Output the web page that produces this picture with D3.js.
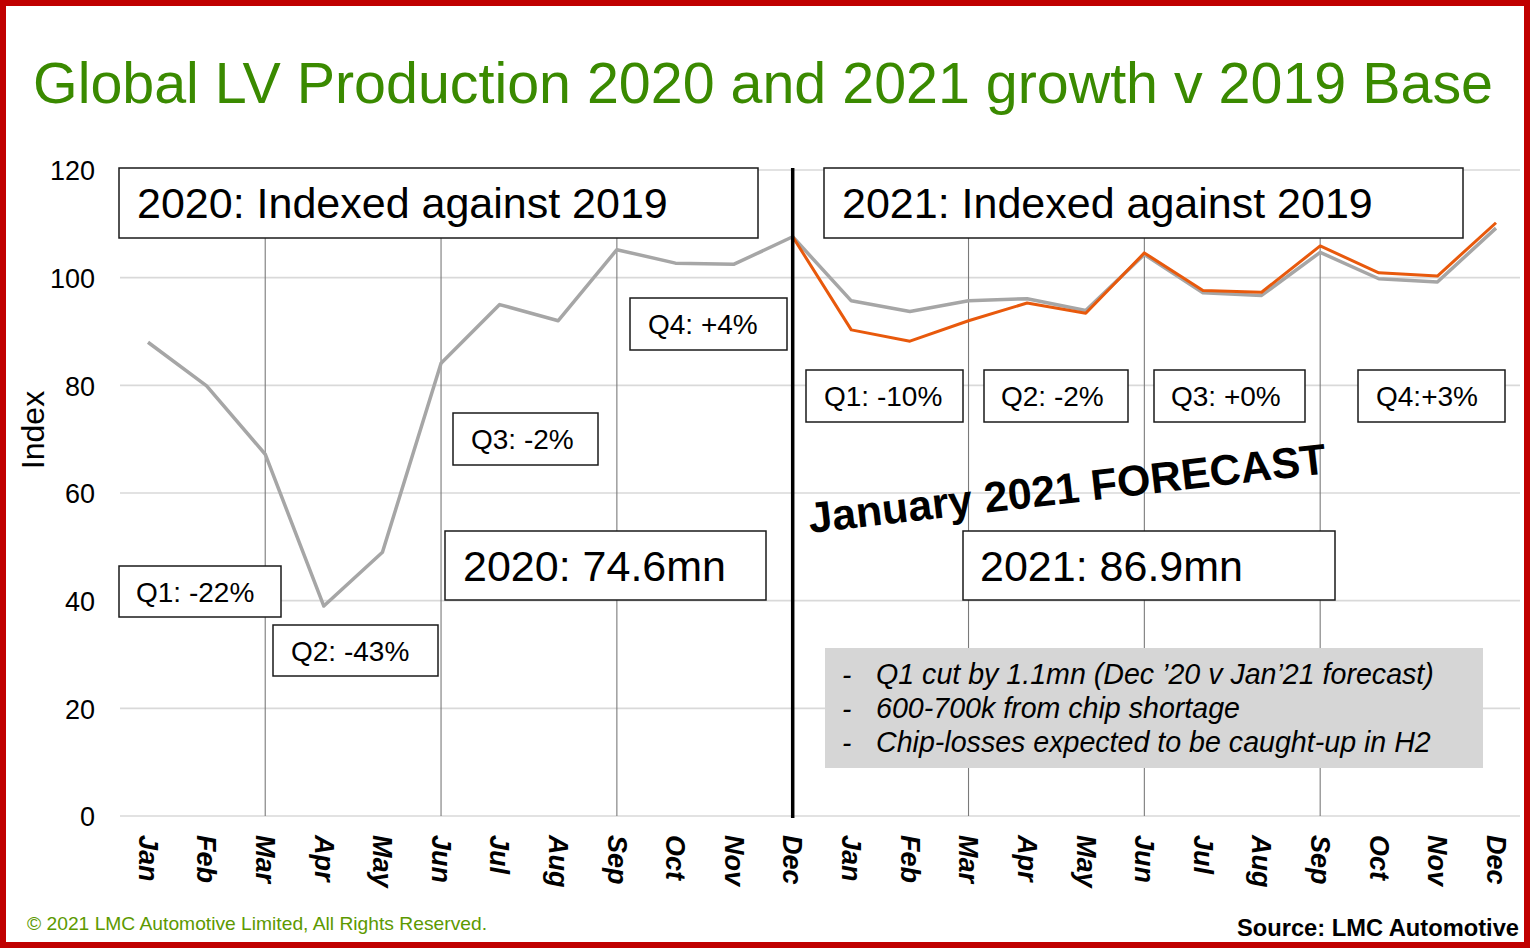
<!DOCTYPE html>
<html>
<head>
<meta charset="utf-8">
<script src="https://cdn.jsdelivr.net/npm/d3@7/dist/d3.min.js"></script>
<style>
  html, body { margin: 0; padding: 0; background: #fff; }
  svg { display: block; }
  text { font-family: "Liberation Sans", Arial, Helvetica, sans-serif; }
</style>
</head>
<body>
<svg id="chart" width="1530" height="949"></svg>
<script>
// ---------- DATA ----------
const months = ["Jan","Feb","Mar","Apr","May","Jun","Jul","Aug","Sep","Oct","Nov","Dec"];
const years = ["2020","2021"];
// Grey series: 2020 actual + 2021 earlier (Dec '20) forecast, indexed vs 2019
const greyValues = [88.0, 79.9, 67.2, 39.0, 49.0, 84.1, 95.0, 92.0, 105.2, 102.7, 102.5, 107.6,
                    95.7, 93.7, 95.7, 96.1, 93.9, 104.3, 97.2, 96.7, 104.7, 99.8, 99.2, 109.2];
// Orange series: January 2021 forecast (starts at Dec 2020)
const orangeStart = 11;
const orangeValues = [107.6, 90.3, 88.2, 92.0, 95.3, 93.4, 104.6, 97.6, 97.3, 105.9, 100.9, 100.3, 110.2];
const yTicks = [0, 20, 40, 60, 80, 100, 120];
const quarterGridMonths = ["Mar","Jun","Sep"];

const titleText = "Global LV Production 2020 and 2021 growth v 2019 Base";
const yLabel = "Index";
const boxLabels = [
  {t:"2020: Indexed against 2019", x:119, y:168, w:639, h:70, fs:43, tx:18},
  {t:"2021: Indexed against 2019", x:824, y:168, w:639, h:70, fs:43, tx:18},
  {t:"Q4: +4%",  x:630, y:298, w:157, h:52, fs:28, tx:18},
  {t:"Q3: -2%",  x:453, y:413, w:145, h:52, fs:28, tx:18},
  {t:"Q1: -22%", x:119, y:566, w:162, h:51, fs:28, tx:17},
  {t:"Q2: -43%", x:273, y:625, w:165, h:51, fs:28, tx:18},
  {t:"2020: 74.6mn", x:445, y:531, w:321, h:69, fs:43, tx:18},
  {t:"Q1: -10%", x:806, y:370, w:157, h:52, fs:28, tx:18},
  {t:"Q2: -2%",  x:984, y:370, w:144, h:52, fs:28, tx:17},
  {t:"Q3: +0%",  x:1154, y:370, w:151, h:52, fs:28, tx:17},
  {t:"Q4:+3%",   x:1358, y:370, w:147, h:52, fs:28, tx:18},
  {t:"2021: 86.9mn", x:963, y:531, w:372, h:69, fs:43, tx:17}
];
const noteLines = [
  "Q1 cut by 1.1mn (Dec \u201920 v Jan\u201921 forecast)",
  "600-700k from chip shortage",
  "Chip-losses expected to be caught-up in H2"
];
const forecastText = "January 2021 FORECAST";
const copyrightText = "\u00A9 2021 LMC Automotive Limited, All Rights Reserved.";
const sourceText = "Source: LMC Automotive";

// ---------- SETUP ----------
const svg = d3.select("#chart");
const keys = years.flatMap(y => months.map(m => y + "-" + m));

const x = d3.scalePoint().domain(keys).range([148, 1496]);
const y = d3.scaleLinear().domain([0, 120]).range([816, 170]);
const plotLeft = 120, plotRight = 1520;

// border
svg.append("rect").attr("x", 3).attr("y", 3).attr("width", 1524).attr("height", 942)
  .attr("fill", "#fff").attr("stroke", "#c00000").attr("stroke-width", 6);

// title
svg.append("text").attr("x", 33).attr("y", 103)
  .attr("font-size", 57).attr("fill", "#3a8a00")
  .attr("textLength", 1460).attr("lengthAdjust", "spacingAndGlyphs")
  .text(titleText);

// horizontal grid
svg.append("g").selectAll("line").data(yTicks).join("line")
  .attr("x1", plotLeft).attr("x2", plotRight)
  .attr("y1", d => y(d)).attr("y2", d => y(d))
  .attr("stroke", "#d9d9d9").attr("stroke-width", 1.6);

// vertical quarter grid
const vKeys = keys.filter(k => quarterGridMonths.includes(k.split("-")[1]));
svg.append("g").selectAll("line").data(vKeys).join("line")
  .attr("x1", d => x(d)).attr("x2", d => x(d))
  .attr("y1", y(120)).attr("y2", y(0))
  .attr("stroke", "#7a7a7a").attr("stroke-width", 1.1);

// y axis labels
const yAxis = d3.axisLeft(y).tickValues(yTicks).tickSize(0).tickPadding(0);
const yg = svg.append("g").attr("transform", "translate(95,0)").call(yAxis);
yg.select(".domain").remove();
yg.selectAll("text").attr("font-size", 27).attr("fill", "#000")
  .attr("font-family", "'Liberation Sans', Arial, sans-serif").attr("dy", "0.36em");

svg.append("text").attr("transform", "translate(44,430) rotate(-90)")
  .attr("text-anchor", "middle").attr("font-size", 32).attr("fill", "#000").text(yLabel);

// x axis labels
const xAxis = d3.axisBottom(x).tickSize(0).tickFormat(k => k.split("-")[1]);
const xg = svg.append("g").attr("transform", `translate(0,${y(0)})`).call(xAxis);
xg.select(".domain").remove();
xg.selectAll("text")
  .attr("font-size", 27).attr("font-weight", "bold").attr("font-style", "italic").attr("fill", "#000")
  .attr("font-family", "'Liberation Sans', Arial, sans-serif")
  .attr("transform", "rotate(90)")
  .attr("x", 19).attr("y", 0).attr("dy", "0.36em")
  .style("text-anchor", "start");

// lines
const line = d3.line().x(d => x(d.k)).y(d => y(d.v));
const greyData = greyValues.map((v, i) => ({k: keys[i], v}));
const orangeData = orangeValues.map((v, i) => ({k: keys[orangeStart + i], v}));

svg.append("path").datum(greyData).attr("d", line)
  .attr("fill", "none").attr("stroke", "#a6a6a6").attr("stroke-width", 3.5)
  .attr("stroke-linejoin", "round");
svg.append("path").datum(orangeData).attr("d", line)
  .attr("fill", "none").attr("stroke", "#e8590c").attr("stroke-width", 3)
  .attr("stroke-linejoin", "round");

// Dec 2020 divider
svg.append("line").attr("x1", x("2020-Dec")).attr("x2", x("2020-Dec"))
  .attr("y1", y(120) - 2).attr("y2", y(0) + 2)
  .attr("stroke", "#000").attr("stroke-width", 3.5);

// boxes
const bg = svg.append("g").selectAll("g").data(boxLabels).join("g");
bg.append("rect").attr("x", d => d.x).attr("y", d => d.y).attr("width", d => d.w).attr("height", d => d.h)
  .attr("fill", "#fff").attr("stroke", "#1a1a1a").attr("stroke-width", 1.5);
bg.append("text").attr("x", d => d.x + d.tx).attr("y", d => d.y + d.h / 2)
  .attr("dy", "0.36em").attr("font-size", d => d.fs).attr("fill", "#000").text(d => d.t);

// note box
svg.append("rect").attr("x", 825).attr("y", 648).attr("width", 658).attr("height", 120)
  .attr("fill", "#d6d6d6");
const ng = svg.append("g").selectAll("g").data(noteLines).join("g")
  .attr("transform", (d, i) => `translate(0,${684 + i * 34})`);
ng.append("text").attr("x", 842).attr("y", 0).attr("font-size", 28).attr("font-style", "italic").text("-");
ng.append("text").attr("x", 876).attr("y", 0).attr("font-size", 28.6).attr("font-style", "italic").attr("fill", "#000").text(d => d);

// forecast text
svg.append("text").attr("transform", "translate(810,533) rotate(-6.6)")
  .attr("font-size", 43).attr("font-weight", "bold").attr("fill", "#000").text(forecastText);

// footer
svg.append("text").attr("x", 27).attr("y", 930).attr("font-size", 19).attr("fill", "#5c9900")
  .attr("textLength", 460).attr("lengthAdjust", "spacingAndGlyphs").text(copyrightText);
svg.append("text").attr("x", 1519).attr("y", 936).attr("text-anchor", "end")
  .attr("font-size", 24).attr("font-weight", "bold").attr("fill", "#000")
  .attr("textLength", 282).attr("lengthAdjust", "spacingAndGlyphs").text(sourceText);
</script>
</body>
</html>
